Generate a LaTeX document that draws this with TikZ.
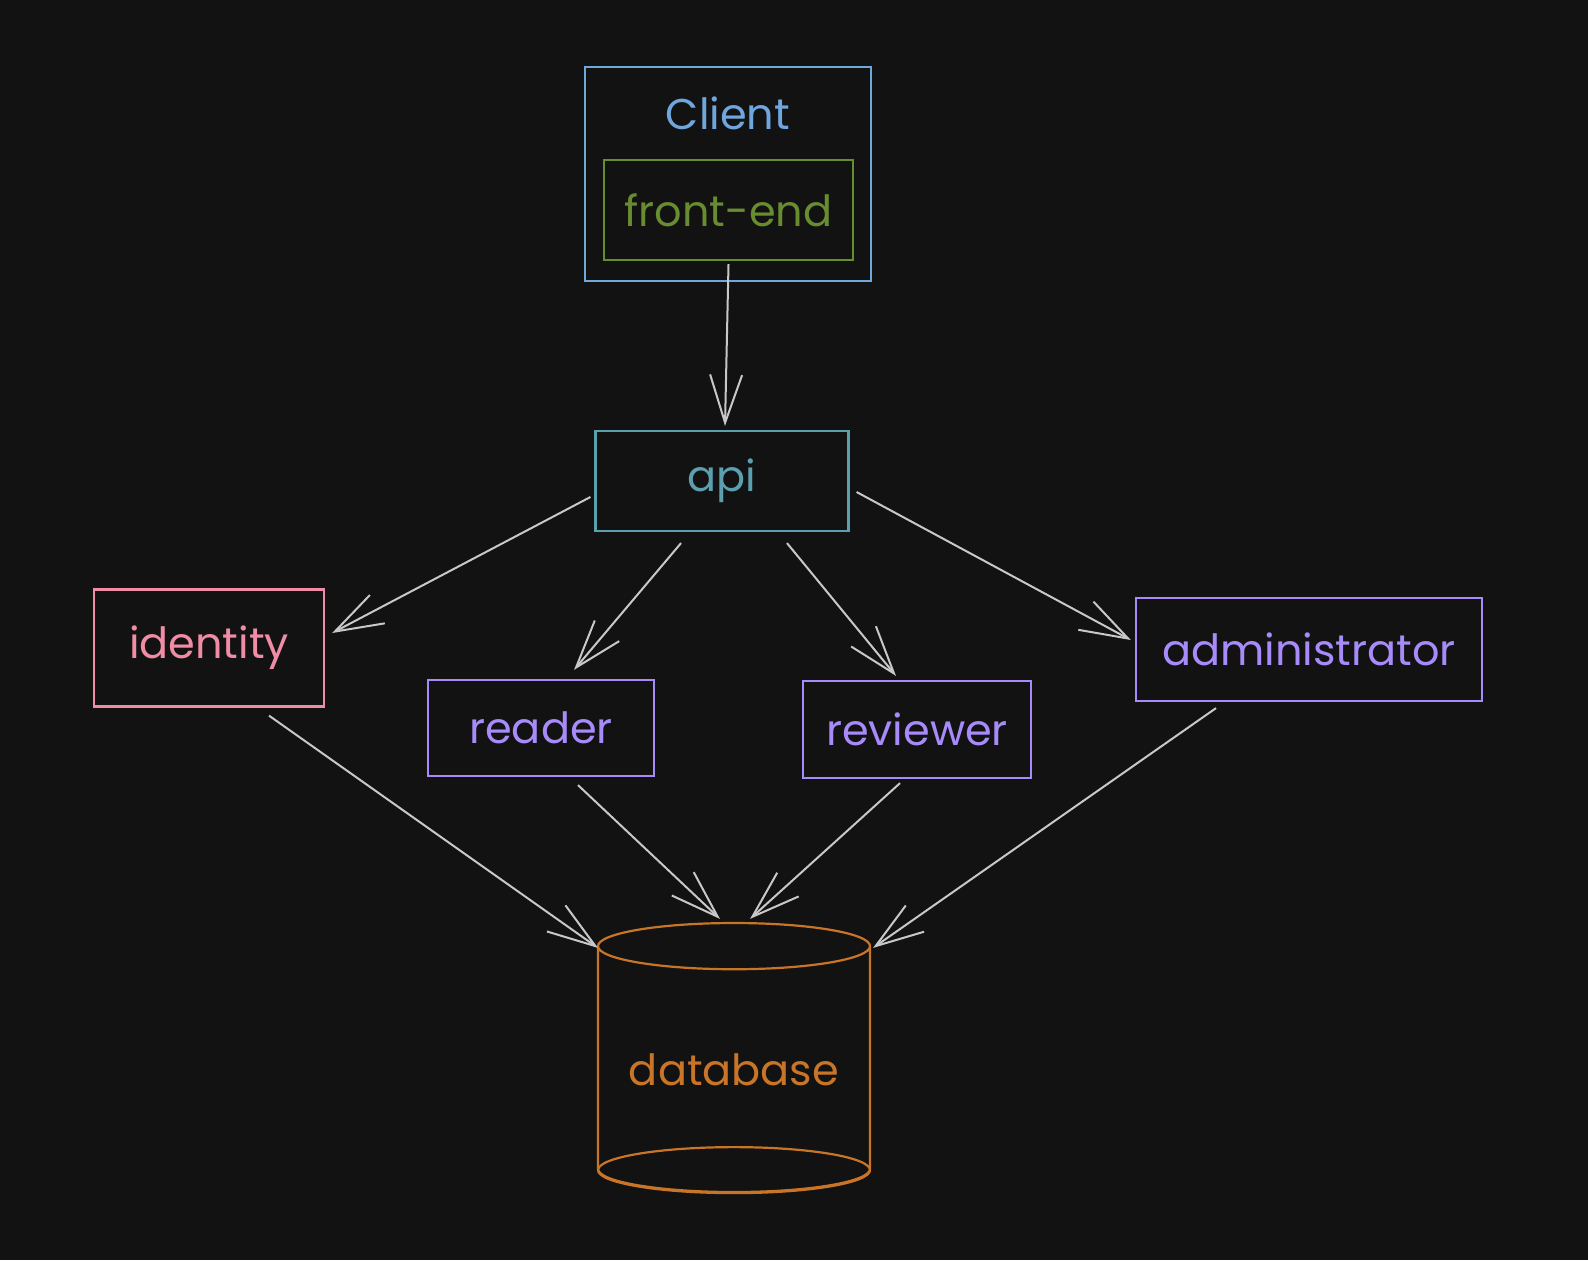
\documentclass[tikz,border=0pt]{standalone}
\usepackage{fontspec}
\setmainfont{Poppins}
\usetikzlibrary{shapes.geometric, arrows.meta, positioning, calc}
\definecolor{myBg}{HTML}{121212}
\definecolor{myBlue}{RGB}{111,166,222}
\definecolor{myGreen}{RGB}{104,140,48}
\definecolor{myTeal}{RGB}{92,160,175}
\definecolor{myPink}{RGB}{240,140,165}
\definecolor{myPurple}{RGB}{167,139,250}
\definecolor{myOrange}{RGB}{200,117,40}
\definecolor{myArrow}{RGB}{200,200,200}
\begin{document}
\begin{tikzpicture}[x=0.5pt, y=-0.5pt,
    box/.style={draw, line width=1.1pt, inner sep=0pt, font=\fontsize{21.5}{25}\selectfont},
    link/.style={-{Straight Barb[length=24pt, width=16pt]}, line width=1pt, myArrow}]
	% Background
	\fill[myBg] (0,0) rectangle (1588,1260);
	\useasboundingbox (0,0) rectangle (1588,1260);
	% Client with front-end
	\node[box, myBlue, minimum width=143pt, minimum height=107pt] (client) at (728,174) {};
	\node[font=\fontsize{21.5}{25}\selectfont, myBlue] (clienttxt) at (728,113) {Client};
	\node[box, myGreen, minimum width=124.5pt, minimum height=50pt] (frontend) at (728.5,210) {front-end};
	% api
	\node[box, myTeal, minimum width=126.5pt, minimum height=50pt] (api) at (722,481) {api};
	% services
	\node[box, myPink, minimum width=115pt, minimum height=58.5pt] (identity) at (209,648) {identity};
	\node[box, myPurple, minimum width=113pt, minimum height=48pt] (reader) at (541,728) {reader};
	\node[box, myPurple, minimum width=114pt, minimum height=48.5pt] (reviewer) at (917,729.5) {reviewer};
	\node[box, myPurple, minimum width=173pt, minimum height=51.5pt] (admin) at (1309,649.5) {administrator};
	% database
	\node[cylinder, shape border rotate=90, aspect=0.22, draw, line width=1.1pt, myOrange,
	      minimum width=136pt, minimum height=134.5pt, inner sep=0pt, anchor=shape center,
	      font=\fontsize{21.5}{25}\selectfont] (db) at (734,1057.5) {database};
	% back of the bottom end
	\draw[myOrange, line width=1.1pt] ($(db.south)+(0,-23)$) ellipse [x radius=68pt, y radius=11.5pt];
	% Arrows
	\draw[link] ($(frontend.south)+(0,3)$) -- ($(api.north)+(3,-4)$);
	\draw[link] ($(api.west)+(-4,16)$) -- ($(identity.east)+(7,-15)$);
	\draw[link] ($(api.south)+(-41,11)$) -- ($(reader.north)+(33,-9)$);
	\draw[link] ($(api.south)+(65,11)$) -- ($(reviewer.north)+(-21,-4)$);
	\draw[link] ($(api.east)+(7,11)$) -- ($(admin.west)+(-4,-9.5)$);
	\draw[link] ($(identity.south)+(60,8)$) -- ($(db.north)+(-136,26)$);
	\draw[link] ($(reader.south)+(37,8)$) -- ($(db.north)+(-14,-3)$);
	\draw[link] ($(reviewer.south)+(-17,4)$) -- ($(db.north)+(16,-3)$);
	\draw[link] ($(admin.south)+(-93,6)$) -- ($(db.north)+(139,26)$);
\end{tikzpicture}
\end{document}
